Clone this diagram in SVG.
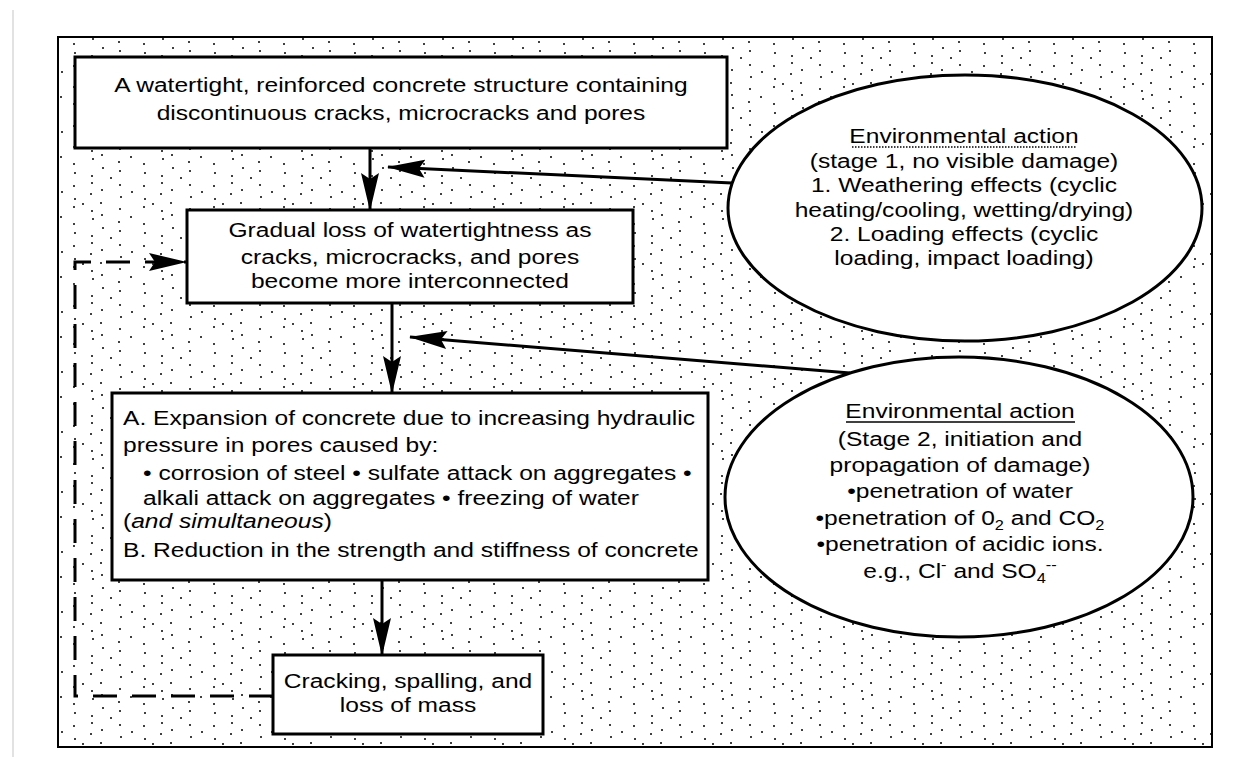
<svg xmlns="http://www.w3.org/2000/svg" width="1248" height="764" viewBox="0 0 1248 764">
<style>
.t{font-family:"Liberation Sans",Arial,Helvetica,sans-serif;font-size:21px;fill:#000}
.c{text-anchor:middle}
.box{fill:#fff;stroke:#000;stroke-width:3}
.ell{fill:#fff;stroke:#000;stroke-width:3}
.con{fill:none;stroke:#000;stroke-width:3}
.dash{fill:none;stroke:#000;stroke-width:3;stroke-dasharray:24 15}
</style>
<defs>
<pattern id="stip" width="70" height="60" patternUnits="userSpaceOnUse">
<g fill="#000">
<circle cx="4" cy="6" r="1"/><circle cx="5" cy="19" r="1"/><circle cx="4" cy="27" r="1"/><circle cx="4" cy="44" r="1"/><circle cx="5" cy="53" r="1"/>
<circle cx="13" cy="24" r="1"/>
<circle cx="22" cy="3" r="1"/><circle cx="21" cy="14" r="1"/><circle cx="22" cy="31" r="1"/><circle cx="23" cy="39" r="1"/><circle cx="22" cy="56" r="1"/>
<circle cx="32" cy="10" r="1"/><circle cx="31" cy="23" r="1"/><circle cx="32" cy="35" r="1"/><circle cx="33" cy="48" r="1"/>
<circle cx="41" cy="58" r="1"/>
<circle cx="50" cy="5" r="1"/><circle cx="51" cy="17" r="1"/><circle cx="50" cy="29" r="1"/><circle cx="49" cy="42" r="1"/><circle cx="50" cy="51" r="1"/>
<circle cx="62" cy="12" r="1"/><circle cx="61" cy="37" r="1"/>
</g>
</pattern>
<marker id="ah" viewBox="0 0 38 20" refX="37" refY="10" markerWidth="38" markerHeight="20" markerUnits="userSpaceOnUse" orient="auto">
<path d="M0,1 L38,10 L0,19 L6,10 z" fill="#000"/>
</marker>
</defs>
<rect x="0" y="0" width="1248" height="764" fill="#fff"/>
<line x1="13" y1="10" x2="13" y2="757" stroke="#e2e2e2" stroke-width="2"/>
<rect x="58" y="37" width="1154" height="710" fill="url(#stip)" stroke="#000" stroke-width="2"/>

<g id="connectors">
<line class="con" x1="370" y1="148" x2="370" y2="210" marker-end="url(#ah)"/>
<line class="con" x1="732" y1="183" x2="388" y2="167" marker-end="url(#ah)"/>
<line class="con" x1="392" y1="303" x2="392" y2="393" marker-end="url(#ah)"/>
<line class="con" x1="850" y1="373" x2="410" y2="337" marker-end="url(#ah)"/>
<line class="con" x1="382" y1="580" x2="382" y2="655" marker-end="url(#ah)"/>
<path class="dash" d="M273,696 H75 V262 H186" marker-end="url(#ah)"/>
</g>

<g id="box1">
<rect class="box" x="75" y="57" width="652" height="91"/>
<text class="t c" transform="translate(401,92) scale(1.17,1)">A watertight, reinforced concrete structure containing</text>
<text class="t c" transform="translate(401,120) scale(1.17,1)">discontinuous cracks, microcracks and pores</text>
</g>

<g id="env1">
<ellipse class="ell" cx="965" cy="208" rx="237" ry="133"/>
<text class="t c" transform="translate(964,143) scale(1.17,1)">Environmental action</text>
<line x1="852" y1="147" x2="1077" y2="147" stroke="#000" stroke-width="1.5" stroke-dasharray="1.5 1.5"/>
<text class="t c" transform="translate(964,168) scale(1.17,1)">(stage 1, no visible damage)</text>
<text class="t c" transform="translate(964,192) scale(1.17,1)">1. Weathering effects (cyclic</text>
<text class="t c" transform="translate(964,217) scale(1.17,1)">heating/cooling, wetting/drying)</text>
<text class="t c" transform="translate(964,241) scale(1.17,1)">2. Loading effects (cyclic</text>
<text class="t c" transform="translate(964,265) scale(1.17,1)">loading, impact loading)</text>
</g>

<g id="box2">
<rect class="box" x="187" y="210" width="446" height="93"/>
<text class="t c" transform="translate(410,237) scale(1.17,1)">Gradual loss of watertightness as</text>
<text class="t c" transform="translate(410,264) scale(1.17,1)">cracks, microcracks, and pores</text>
<text class="t c" transform="translate(410,288) scale(1.17,1)">become more interconnected</text>
</g>

<g id="env2">
<ellipse class="ell" cx="959" cy="497" rx="234" ry="140"/>
<text class="t c" transform="translate(960,418) scale(1.17,1)">Environmental action</text>
<line x1="846" y1="422" x2="1075" y2="422" stroke="#000" stroke-width="1.5"/>
<text class="t c" transform="translate(960,446) scale(1.17,1)">(Stage 2, initiation and</text>
<text class="t c" transform="translate(960,472) scale(1.17,1)">propagation of damage)</text>
<text class="t c" transform="translate(960,498) scale(1.17,1)">•penetration of water</text>
<text class="t c" transform="translate(960,525) scale(1.17,1)">•penetration of 0<tspan font-size="14" dy="5">2</tspan><tspan dy="-5"> and CO</tspan><tspan font-size="14" dy="5">2</tspan></text>
<text class="t c" transform="translate(960,551) scale(1.17,1)">•penetration of acidic ions.</text>
<text class="t c" transform="translate(960,578) scale(1.17,1)">e.g., Cl<tspan font-size="14" dy="-8">-</tspan><tspan dy="8"> and SO</tspan><tspan font-size="14" dy="5">4</tspan><tspan font-size="14" dy="-13">--</tspan></text>
</g>

<g id="box3">
<rect class="box" x="112" y="393" width="596" height="187"/>
<text class="t" transform="translate(123,425) scale(1.17,1)">A. Expansion of concrete due to increasing hydraulic</text>
<text class="t" transform="translate(123,452) scale(1.17,1)">pressure in pores caused by:</text>
<text class="t" transform="translate(143,480) scale(1.17,1)">• corrosion of steel • sulfate attack on aggregates •</text>
<text class="t" transform="translate(143,505) scale(1.17,1)">alkali attack on aggregates • freezing of water</text>
<text class="t" transform="translate(123,528) scale(1.17,1)">(<tspan font-style="italic">and simultaneous</tspan>)</text>
<text class="t" transform="translate(123,557) scale(1.17,1)">B. Reduction in the strength and stiffness of concrete</text>
</g>

<g id="box4">
<rect class="box" x="273" y="655" width="270" height="79"/>
<text class="t c" transform="translate(408,688) scale(1.17,1)">Cracking, spalling, and</text>
<text class="t c" transform="translate(408,712) scale(1.17,1)">loss of mass</text>
</g>
</svg>
